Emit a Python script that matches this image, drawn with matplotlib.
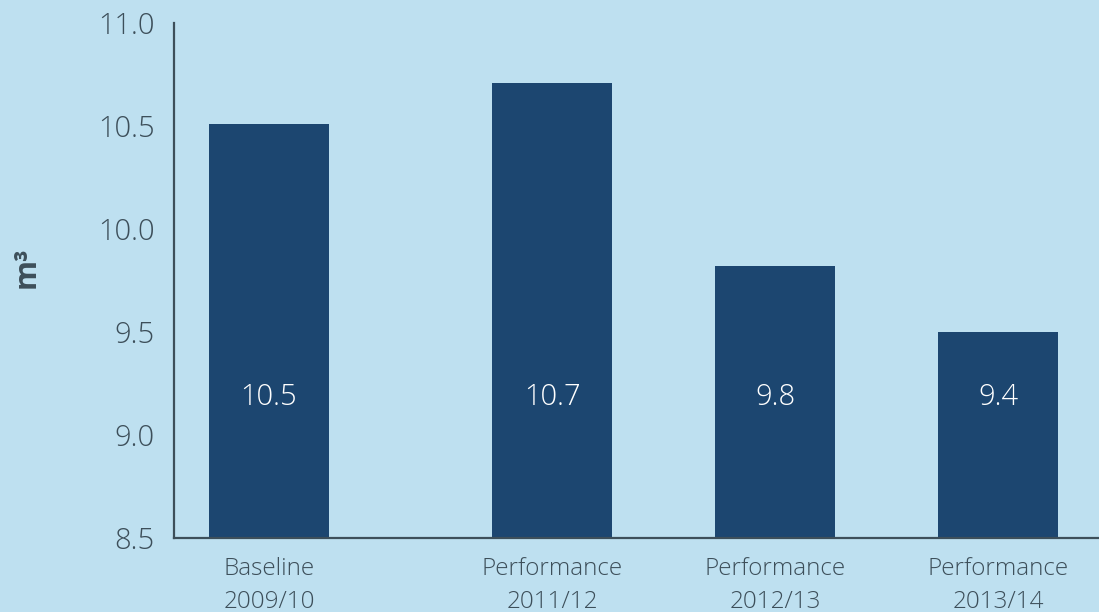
import matplotlib.pyplot as plt

# Data
categories = ['Baseline\n2009/10', 'Performance\n2011/12', 'Performance\n2012/13', 'Performance\n2013/14']
heights = [10.51, 10.71, 9.82, 9.50]
value_labels = ['10.5', '10.7', '9.8', '9.4']

# Layout (bar centres; the baseline bar stands a little apart)
x_pos = [0, 1.27, 2.27, 3.27]
bar_width = 0.54

bg = '#bee0f0'
bar_color = '#1c4670'
text_color = '#3d4f5a'

plt.rcParams['font.family'] = ['Open Sans', 'DejaVu Sans']

fig = plt.figure(figsize=(10.99, 6.12), dpi=100, facecolor=bg)
ax = fig.add_axes([174 / 1099, 74 / 612, 1 - 174 / 1099, 515 / 612])
ax.set_facecolor(bg)

ax.bar(x_pos, heights, width=bar_width, bottom=0, color=bar_color, zorder=2)

# Value labels sit at the same height inside every bar
for x, lab in zip(x_pos, value_labels):
    ax.text(x, 9.185, lab, ha='center', va='center', color='white', fontsize=21,
            fontweight='light', zorder=3)

ax.set_ylim(8.5, 11.0)
ax.set_xlim(-0.426, 3.722)
ax.set_yticks([8.5, 9.0, 9.5, 10.0, 10.5, 11.0])
ax.set_yticklabels(['8.5', '9.0', '9.5', '10.0', '10.5', '11.0'])
ax.set_xticks(x_pos)
ax.set_xticklabels(categories, linespacing=1.45)

ax.tick_params(axis='y', length=0, pad=14, labelsize=21, labelcolor=text_color)
ax.tick_params(axis='x', length=0, pad=14, labelsize=17.5, labelcolor=text_color)
for lab in ax.get_xticklabels() + ax.get_yticklabels():
    lab.set_fontweight('light')

for side in ['top', 'right']:
    ax.spines[side].set_visible(False)
for side in ['left', 'bottom']:
    ax.spines[side].set_color(text_color)
    ax.spines[side].set_linewidth(1.6)

ax.set_ylabel('m³', fontsize=22, fontweight='bold', color=text_color)
ax.yaxis.set_label_coords(-0.143, 0.526)

plt.savefig('out.png', dpi=100, facecolor=bg)
